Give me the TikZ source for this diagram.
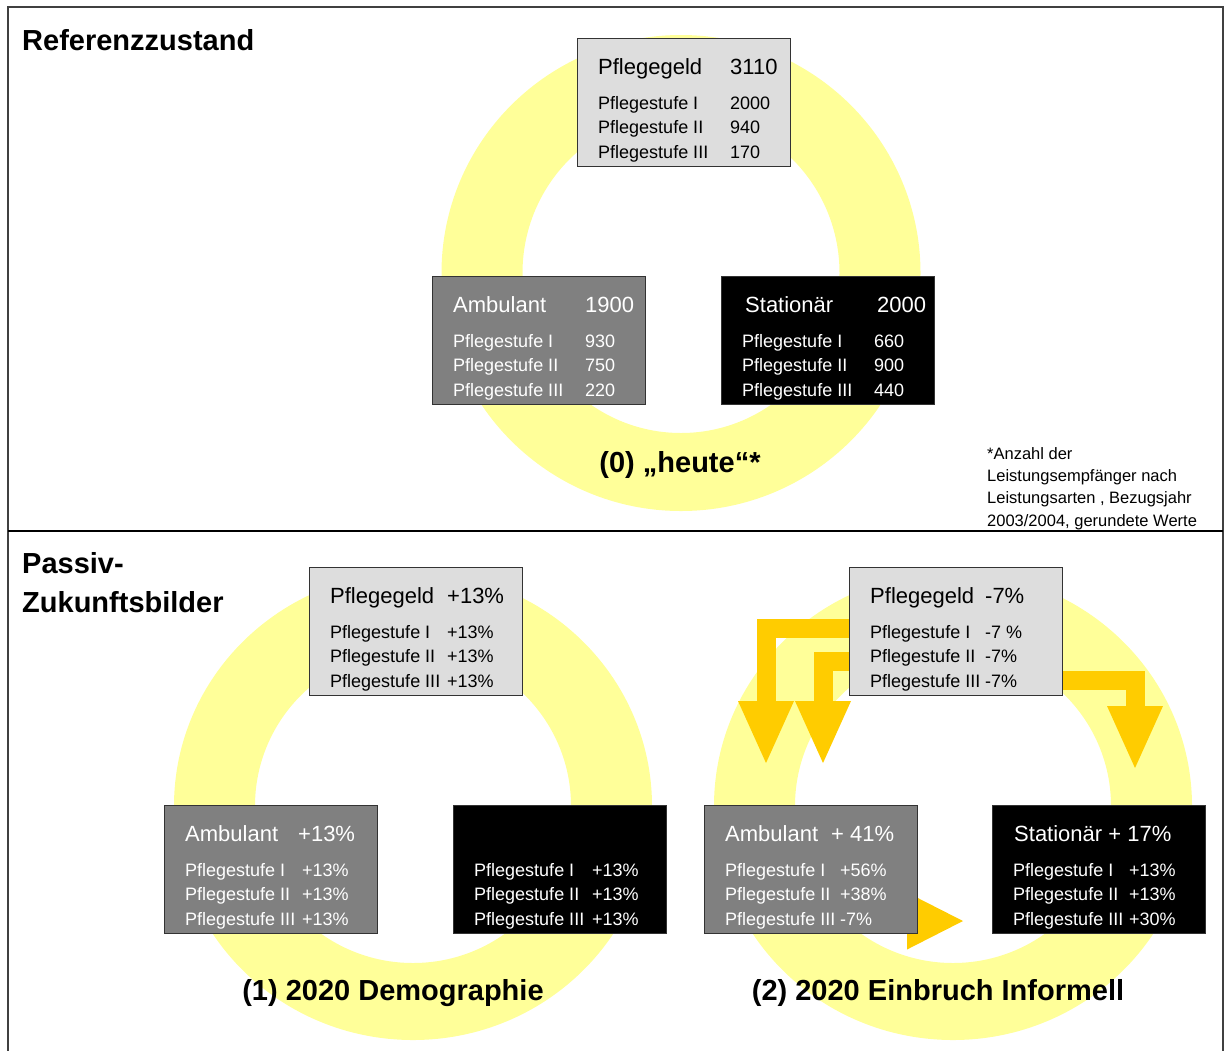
\documentclass[tikz,border=0pt]{standalone}
\usepackage{fontspec}
\setmainfont{Liberation Sans}
\usetikzlibrary{arrows.meta,backgrounds}
\definecolor{ringyellow}{HTML}{FFFF99}
\definecolor{arrowgold}{HTML}{FFCC00}
\definecolor{pggray}{HTML}{DDDDDD}
\definecolor{ambgray}{HTML}{808080}
\definecolor{boxline}{HTML}{333333}
\newcommand{\pbig}{\fontsize{22}{24.5}\selectfont}
\newcommand{\pbrows}[6]{%
	\begin{tabular}[t]{@{}l@{}l@{}}
		\makebox[#1pt][l]{\pbig #2} & {\pbig #3}\\[10.5pt]
		\makebox[#1pt][l]{Pflegestufe I} & #4\\
		\makebox[#1pt][l]{Pflegestufe II} & #5\\
		\makebox[#1pt][l]{Pflegestufe III} & #6
	\end{tabular}}

\begin{document}
\begin{tikzpicture}[x=1pt, y=-1pt,
	pbox/.style={draw=boxline, line width=1.2pt, minimum width=213pt, minimum height=128pt, anchor=north west, inner sep=0pt},
	ptext/.style={anchor=base west, inner sep=0pt, font=\fontsize{18}{24.5}\selectfont},
	sectitle/.style={anchor=base west, inner sep=0pt, font=\fontsize{29}{34}\selectfont\bfseries},
	capt/.style={anchor=base, inner sep=0pt, font=\fontsize{29}{34}\selectfont\bfseries},
	fnote/.style={anchor=north west, align=left, inner sep=0pt, font=\fontsize{16.5}{22.3}\selectfont},
	ring/.style={fill=ringyellow, even odd rule},
	goldarrow/.style={draw=arrowgold, line width=19pt, line join=miter, -{Triangle[length=62pt, width=56pt, line width=0pt]}}]
	
	\useasboundingbox (0,0) rectangle (1228,1050);
	
	% Referenzzustand
	\node[pbox, fill=pggray] (pg0) at (577,38) {};
	\node[ptext] (pg0t) at ([shift={(21,36)}]pg0.north west) {\pbrows{132}{Pflegegeld}{3110}{2000}{940}{170}};
	\node[pbox, fill=ambgray] (amb0) at (432,276) {};
	\node[ptext, text=white] (amb0t) at ([shift={(21,36)}]amb0.north west) {\pbrows{132}{Ambulant}{1900}{930}{750}{220}};
	\node[pbox, fill=black] (sta0) at (721,276) {};
	\node[ptext, text=white] (sta0t) at ([shift={(21,36)}]sta0.north west) {\pbrows{132}{\hspace{3pt}Stationär}{\hspace{3pt}2000}{660}{900}{440}};
	\node[capt] (cap0) at (680,472) {(0) „heute“*};
	\node[fnote] (fn) at (987,447) {*Anzahl der\\Leistungsempfänger nach\\Leistungsarten , Bezugsjahr\\2003/2004, gerundete Werte};
	
	% Demographie
	\node[pbox, fill=pggray] (pg1) at (309,567) {};
	\node[ptext] (pg1t) at ([shift={(21,36)}]pg1.north west) {\pbrows{117}{Pflegegeld}{+13\%}{+13\%}{+13\%}{+13\%}};
	\node[pbox, fill=ambgray] (amb1) at (164,805) {};
	\node[ptext, text=white] (amb1t) at ([shift={(21,36)}]amb1.north west) {\pbrows{117}{Ambulant}{\hspace{-4pt}+13\%}{+13\%}{+13\%}{+13\%}};
	\node[pbox, fill=black] (sta1) at (453,805) {};
	\node[ptext, text=white] (sta1t) at ([shift={(21,36)}]sta1.north west) {\pbrows{118}{}{}{+13\%}{+13\%}{+13\%}};
	\node[capt] (cap1) at (393,1000) {(1) 2020 Demographie};
	
	% Einbruch Informell
	\node[pbox, fill=pggray] (pg2) at (849,567) {};
	\node[ptext] (pg2t) at ([shift={(21,36)}]pg2.north west) {\pbrows{115}{Pflegegeld}{-7\%}{-7 \%}{-7\%}{-7\%}};
	\node[pbox, fill=ambgray] (amb2) at (704,805) {};
	\node[ptext, text=white] (amb2t) at ([shift={(21,36)}]amb2.north west) {\pbrows{115}{Ambulant}{\hspace{-9pt}+ 41\%}{+56\%}{+38\%}{-7\%}};
	\node[pbox, fill=black] (sta2) at (992,805) {};
	\node[ptext, text=white] (sta2t) at ([shift={(21,36)}]sta2.north west) {\pbrows{116}{\hspace{1pt}Stationär + 17\%}{}{+13\%}{+13\%}{+30\%}};
	\node[capt] (cap2) at (938,1000) {(2) 2020 Einbruch Informell};
	
	% titles
	\node[sectitle] (ref) at (22,50) {Referenzzustand};
	\node[sectitle] (pas1) at (22,573) {Passiv-};
	\node[sectitle] (pas2) at (22,612) {Zukunftsbilder};
	
	% rings and arrows
	\coordinate (ring0) at (681,273);
	\coordinate (ring1) at (413,806);
	\coordinate (ring2) at (953,806);
	\coordinate (tipA) at (766,763);
	\coordinate (tipB) at (823,763);
	\coordinate (tipC) at (1135,768);
	\coordinate (tipD) at (963,921);
	\begin{pgfonlayer}{background}
		\fill[ring] (ring0) ellipse [x radius=239.5pt, y radius=238pt] (ring0) ellipse [x radius=158.5pt, y radius=160pt];
		\fill[ring] (ring1) ellipse [x radius=239pt, y radius=234pt] (ring1) ellipse [x radius=158pt, y radius=157pt];
		\fill[ring] (ring2) ellipse [x radius=239pt, y radius=234pt] (ring2) ellipse [x radius=158pt, y radius=157pt];
		\draw[goldarrow] (pg2.west |- 0,628) -- (tipA |- 0,628) -- (tipA);
		\draw[goldarrow] (pg2.west |- 0,661) -- (tipB |- 0,661) -- (tipB);
		\draw[goldarrow] (pg2.east |- 0,680) -- (tipC |- 0,680) -- (tipC);
		\draw[goldarrow, -{Triangle[length=56pt, width=57pt, line width=0pt]}] (amb2.center |- tipD) -- (tipD);
	\end{pgfonlayer}
	
	% frame
	\draw[line width=2pt, black!75] (8,1060) |- (1223,7) -- (1223,1060);
	\draw[line width=1.2pt] (8,531) -- (1223,531);
\end{tikzpicture}
\end{document}
